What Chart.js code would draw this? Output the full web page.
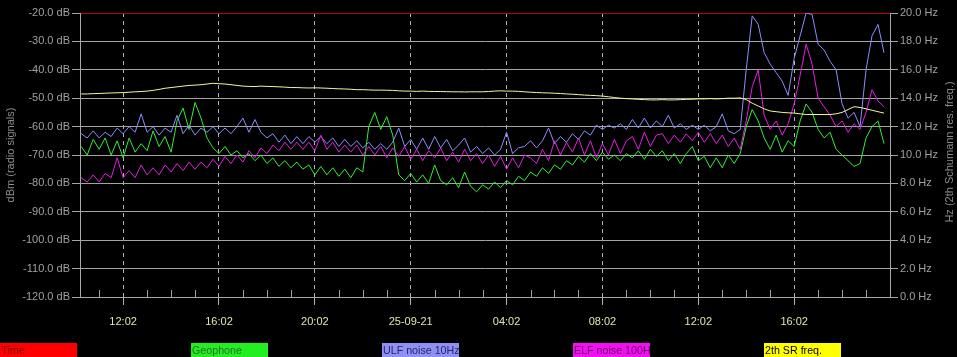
<!DOCTYPE html>
<html>
<head>
<meta charset="utf-8">
<script src="https://cdn.jsdelivr.net/npm/chart.js@4.4.0/dist/chart.umd.min.js"></script>
<style>
  html, body { margin: 0; padding: 0; background: #000; overflow: hidden; }
  #wrap { position: relative; width: 957px; height: 357px; }
  .key { position: absolute; top: 343px; width: 77px; height: 16px; padding-left: 1px; box-sizing: border-box;
         font: 10.7px "Liberation Sans", Arial, sans-serif; line-height: 15px; white-space: nowrap; overflow: hidden; }
</style>
</head>
<body>
<div id="wrap">
  <canvas id="chart" width="957" height="357"></canvas>
</div>
<script>
// time axis: hours since 24-09-21 00:02, one sample every 15 min
const startHour = 10.25;
const stepHour = 0.25;

const tickHours = [12, 16, 20, 24, 28, 32, 36, 40];
const tickLabels = ['12:02', '16:02', '20:02', '25-09-21', '04:02', '08:02', '12:02', '16:02'];

// dBm
const geophone = [
  -67, -70, -64.5, -68, -64, -70, -65, -71, -64, -69,
  -66, -68.5, -61.5, -67, -63.5, -69, -58, -53.5, -61, -51.5,
  -57, -64, -67.5, -69.5, -67, -70, -68.5, -71, -69.5, -72,
  -70, -73, -71, -74, -72, -74.5, -72.5, -75, -73.5, -77,
  -74, -77, -74.5, -77.5, -75, -78, -74.5, -76, -60, -55,
  -61, -56.5, -63, -77, -79, -76.5, -79.5, -77, -80, -73.5,
  -79, -80.5, -78, -81.5, -76, -81, -83, -80.5, -82, -79.5,
  -81.5, -79, -80.5, -77.5, -79, -76, -77.5, -74.5, -76.5, -73.5,
  -75, -72, -73.5, -70.5, -72.5, -69.5, -72, -69, -71.5, -70,
  -72, -69.5, -71, -68.5, -71.5, -68, -70.5, -68.5, -72, -69.5,
  -73, -69.5, -67, -72, -70.5, -74.5, -71, -74.5, -70, -73,
  -69.5, -60, -54, -58, -64, -68, -63, -69, -65, -67,
  -58, -52, -55, -61, -64, -62, -68, -70, -72, -74,
  -73, -64, -60, -58, -66
];
const ulfNoise = [
  -62.5, -64, -61.5, -64, -62, -63.5, -60.5, -62.5, -60, -62,
  -55.5, -62, -60, -63, -60.5, -62, -56, -62.5, -59.5, -63,
  -60.5, -62, -60, -62.5, -60.5, -62.5, -60, -57, -62, -57.5,
  -62, -64, -62.5, -65.5, -63, -66, -63.5, -66, -63.5, -65.5,
  -63.5, -66, -64, -67, -64.5, -67, -65, -67.5, -65.5, -68,
  -66, -68, -65.5, -60.5, -67, -64.5, -68, -64, -68, -63.5,
  -67.5, -64.5, -68.5, -66.5, -64, -69, -67, -69.5, -67.5, -70,
  -68, -62, -69.5, -67.5, -67, -65, -67.5, -65, -60.5, -66,
  -63.5, -65.5, -62.5, -64.5, -61.5, -63, -59.5, -61, -59.5, -60.5,
  -59, -61, -57.5, -60.5, -57, -60.5, -58, -60, -56, -60.5,
  -59, -61, -59.5, -61, -59.5, -61.5, -60, -55.5, -61.5, -62.5,
  -61, -40, -21, -24, -34, -38, -41, -44, -49, -36,
  -28, -20, -20.5, -31, -33, -37, -40, -52, -57, -55,
  -60, -40, -28, -24, -34
];
const elfNoise = [
  -78, -79.5, -77, -79.5, -76.5, -78, -71, -78, -75.5, -78,
  -73.5, -77, -74.5, -77, -73.5, -76, -73, -75.5, -72.5, -75,
  -72.5, -74.5, -71.5, -74, -70.5, -73, -70, -72.5, -68.5, -71,
  -67.5, -69.5, -66.5, -68.5, -65.5, -68, -65.5, -68, -65.5, -68.5,
  -63, -68, -65.5, -69, -66.5, -69, -66.5, -70, -67, -70,
  -67, -71, -67.5, -70.5, -67, -71.5, -68, -72, -68.5, -71,
  -67.5, -72, -69, -72.5, -68, -72, -69.5, -73, -70, -74,
  -70.5, -75, -71, -74.5, -70, -71, -73, -68, -72, -65,
  -70, -65.5, -69, -64, -70, -65, -71, -66, -70, -64.5,
  -69.5, -65, -63.5, -68, -62, -67, -63, -62.5, -66, -63,
  -65.5, -62.5, -65, -62, -65.5, -62.5, -66, -63, -67, -64,
  -68, -58, -46, -40, -56, -61, -58, -63, -59, -52,
  -42, -31, -38, -50, -53, -56, -60, -58, -62, -59,
  -61, -55, -47, -51, -53
];
// Hz (right axis)
const srFreq = [
  14.3, 14.3, 14.32, 14.33, 14.35, 14.37, 14.38, 14.4, 14.42, 14.45,
  14.47, 14.5, 14.55, 14.62, 14.7, 14.75, 14.8, 14.85, 14.9, 14.92,
  14.95, 15.0, 15.05, 15.02, 15.0, 14.95, 14.9, 14.85, 14.83, 14.82,
  14.85, 14.83, 14.82, 14.8, 14.78, 14.75, 14.75, 14.73, 14.72, 14.73,
  14.72, 14.7, 14.68, 14.66, 14.65, 14.63, 14.6, 14.6, 14.58, 14.57,
  14.57, 14.56, 14.55, 14.52, 14.5, 14.5, 14.48, 14.5, 14.48, 14.47,
  14.47, 14.46, 14.45, 14.45, 14.44, 14.45, 14.45, 14.45, 14.47, 14.5,
  14.52, 14.5, 14.5, 14.48, 14.45, 14.42, 14.4, 14.38, 14.37, 14.35,
  14.33, 14.3, 14.28, 14.25, 14.22, 14.2, 14.18, 14.15, 14.1, 14.05,
  14.0, 13.97, 13.95, 13.92, 13.9, 13.88, 13.88, 13.9, 13.88, 13.88,
  13.9, 13.92, 13.93, 13.95, 13.95, 13.97, 13.95, 13.97, 14.0, 14.0,
  14.02, 13.9, 13.65, 13.45, 13.25, 13.1, 13.05, 13.0, 12.97, 12.95,
  12.9, 12.85, 12.85, 12.85, 12.85, 12.85, 12.9, 13.0, 13.2, 13.4,
  13.35, 13.25, 13.15, 13.05, 12.95
];

const keyNames = ['Time', 'Geophone', 'ULF noise 10Hz', 'ELF noise 100H', '2th SR freq.'];
const keyColors = ['#ff0000', '#22ee22', '#9090f4', '#f010f0', '#ffff00'];
const keyText = ['#8a0000', '#2e6e2e', '#26266e', '#6a006a', '#000000'];

const hours = geophone.map((_, i) => startHour + i * stepHour);
const pts = arr => arr.map((v, i) => ({ x: hours[i], y: v }));

const wrap = document.getElementById('wrap');
keyNames.forEach((name, i) => {
  const d = document.createElement('div');
  d.className = 'key';
  d.style.left = (i * 191) + 'px';
  d.style.background = keyColors[i];
  d.style.color = keyText[i];
  d.textContent = name;
  wrap.appendChild(d);
});

const font = { family: '"Liberation Sans", Arial, sans-serif', size: 11 };

const extras = {
  id: 'extras',
  beforeDatasetsDraw(chart) {
    // small hourly ticks on the time axis
    const { ctx, chartArea, scales: { x } } = chart;
    ctx.save();
    ctx.strokeStyle = '#a0a0a0';
    ctx.lineWidth = 1;
    for (let h = 11; h <= 43; h++) {
      if (h % 4 === 0) continue;
      const px = Math.round(x.getPixelForValue(h)) + 0.5;
      ctx.beginPath();
      ctx.moveTo(px, chartArea.bottom - 7);
      ctx.lineTo(px, chartArea.bottom);
      ctx.stroke();
    }
    ctx.restore();
  },
  afterDraw(chart) {
    const { ctx, chartArea } = chart;
    ctx.save();
    ctx.translate(950, (chartArea.top + chartArea.bottom) / 2 - 3);
    ctx.rotate(-Math.PI / 2);
    ctx.fillStyle = '#8c8c8c';
    ctx.font = '11px "Liberation Sans", Arial, sans-serif';
    ctx.textAlign = 'center';
    ctx.textBaseline = 'middle';
    ctx.fillText('Hz (2th Schumann res. freq.)', 0, 0);
    ctx.restore();
  }
};

const line = (label, data, color, axis, order) => ({
  label, data: pts(data), yAxisID: axis, order,
  borderColor: color, borderWidth: 1, pointRadius: 0, tension: 0, fill: false
});

new Chart(document.getElementById('chart'), {
  type: 'line',
  data: {
    datasets: [
      line('Geophone', geophone, '#33ee33', 'y', 3),
      line('ULF noise 10Hz', ulfNoise, '#8c8cff', 'y', 2),
      line('ELF noise 100H', elfNoise, '#e020e0', 'y', 1),
      line('2th SR freq.', srFreq, '#f6f69c', 'y2', 0)
    ]
  },
  options: {
    responsive: false,
    animation: false,
    layout: { padding: { top: 13, left: 0, right: 0, bottom: 0 } },
    plugins: { legend: { display: false }, tooltip: { enabled: false } },
    scales: {
      x: {
        type: 'linear', min: 10.2, max: 44,
        afterBuildTicks: s => { s.ticks = tickHours.map(v => ({ value: v })); },
        afterFit: s => { s.height = 60; },
        ticks: {
          color: '#e4e4b0', font, padding: 10, maxRotation: 0, autoSkip: false,
          callback: (v) => tickLabels[tickHours.indexOf(v)]
        },
        grid: { color: '#b4b4b4', tickColor: '#b4b4b4', tickLength: 8 },
        border: { color: '#a8a8a8', dash: [4, 4] }
      },
      y: {
        position: 'left', min: -120, max: -20,
        afterFit: s => { s.width = 80; },
        ticks: { stepSize: 10, color: '#a0a0a0', font, padding: 2, callback: v => v.toFixed(1) + ' dB' },
        grid: {
          color: c => (c.tick && c.tick.value === -20) ? '#c00000' : '#a4a4a4',
          tickColor: '#a4a4a4', tickLength: 8
        },
        border: { color: '#a8a8a8' },
        title: { display: true, text: 'dBm (radio signals)', color: '#8c8c8c', font, padding: { top: 4, bottom: 0 } }
      },
      y2: {
        position: 'right', min: 0, max: 20,
        afterFit: s => { s.width = 67; },
        ticks: { stepSize: 2, color: '#a0a0a0', font, padding: 2, callback: v => v.toFixed(1) + ' Hz' },
        grid: { drawOnChartArea: false, tickColor: '#a4a4a4', tickLength: 8 },
        border: { color: '#a8a8a8' }
      }
    }
  },
  plugins: [extras]
});
</script>
</body>
</html>
